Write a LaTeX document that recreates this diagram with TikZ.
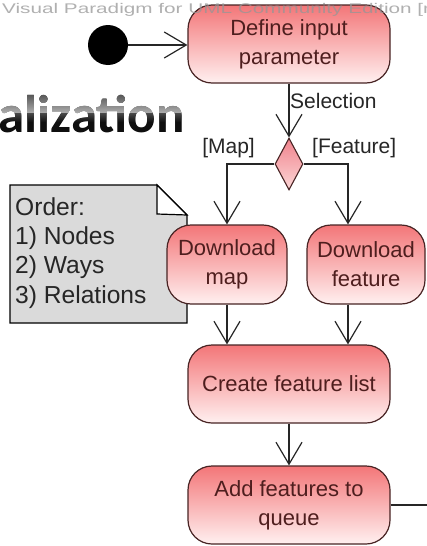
\documentclass[tikz,border=0pt]{standalone}
\usepackage{fontspec}
\setmainfont{Liberation Sans}
\newfontfamily\headfont{Carlito}
\usetikzlibrary{arrows.meta,shapes.geometric,calc}

\definecolor{acttop}{RGB}{243,118,120}
\definecolor{actbot}{RGB}{255,240,240}
\definecolor{actline}{RGB}{72,36,36}
\definecolor{acttext}{RGB}{78,30,30}
\definecolor{dectop}{RGB}{240,130,140}
\definecolor{decbot}{RGB}{252,215,215}
\definecolor{notefill}{RGB}{218,218,218}
\definecolor{wmark}{RGB}{150,150,150}
\definecolor{glossa}{RGB}{75,75,75}
\definecolor{glossb}{RGB}{170,170,170}
\definecolor{glossc}{RGB}{80,80,80}
\definecolor{glossd}{RGB}{15,15,15}

\begin{document}
\begin{tikzpicture}[x=1pt,y=-1pt,
  action/.style={draw=actline, line width=1.2pt, rounded corners=24pt,
    top color=acttop, bottom color=actbot, minimum height=78pt,
    text=acttext, align=center, inner sep=0pt,
    font=\fontsize{22}{29}\selectfont},
  decision/.style={diamond, draw=actline, line width=1.1pt, inner sep=0pt,
    aspect=0.54, minimum width=28pt, minimum height=52pt,
    top color=dectop, bottom color=decbot},
  flow/.style={draw=black!85, line width=1.2pt,
    -{Straight Barb[length=22pt,width=26pt,line width=1.2pt]}},
  plain/.style={draw=black!85, line width=1.2pt},
  guard/.style={inner sep=0pt, text=black!85, font=\fontsize{21}{25}\selectfont},
  notetext/.style={inner sep=0pt, anchor=base west, text=black!85,
    font=\fontsize{24.6}{28}\selectfont},
]
\useasboundingbox (0,0) rectangle (427,546);
\clip (0,0) rectangle (427,546);
\fill[white] (0,0) rectangle (427,546);

% heading fragment: black letters, lightened by a glossy grey shading on top
\node[inner sep=0pt, anchor=base east, text=black,
      font=\headfont\bfseries\fontsize{53}{53}\selectfont] (head) at (185,132) {alization};
\begin{scope}[blend mode=lighten]
  \shade[top color=glossa, bottom color=glossb] (0,92) rectangle (190,112);
  \shade[top color=glossc, bottom color=glossd] (0,112) rectangle (190,122);
  \fill[glossd] (0,122) rectangle (190,140);
\end{scope}

% note
\draw[line width=1.2pt, fill=notefill] (10,185) -- (157,185) -- (187,215) -- (187,323) -- (10,323) -- cycle;
\draw[line width=1.2pt, fill=white] (157,185) -- (157,214) -- (187,215) -- cycle;
\node[notetext] (n1) at (15,215) {Order:};
\node[notetext] (n2) at (15,244) {1) Nodes};
\node[notetext] (n3) at (15,273) {2) Ways};
\node[notetext] (n4) at (15,303) {3) Relations};

% activities
\node[circle, fill=black, minimum size=40pt, inner sep=0pt] (start) at (108,45) {};
\node[action, minimum width=202pt] (def) at (289,44) {Define input\\parameter};
\node[decision] (dec) at (289,164) {};
\node[action, minimum width=120pt, minimum height=79pt] (map) at (227,264.5) {Download\\map};
\node[action, minimum width=118pt, minimum height=79pt] (feat) at (366,264.5) {Download\\feature};
\node[action, minimum width=202pt] (create) at (289,384) {Create feature list};
\node[action, minimum width=202pt] (add) at (289,505) {Add features to\\queue};
\coordinate (featin) at ([xshift=-18pt]feat.north);
\coordinate (featout) at ([xshift=-18pt]feat.south);
\coordinate (exit) at (432,505);

% connectors
\draw[flow] (start) -- (start -| def.west);
\draw[flow] (def.south) -- (dec.north);
\draw[flow] (dec.west) -| (map.north);
\draw[flow] (dec.east) -| (featin);
\draw[flow] (map.south) -- (map.south |- create.north);
\draw[flow] (featout) -- (featout |- create.north);
\draw[flow] (create.south) -- (add.north);
\draw[plain] (add.east) -- (exit);

% labels
\node[guard, anchor=base west] (sel) at (290,108) {Selection};
\node[guard, anchor=base east] (gmap) at (255,153) {[Map]};
\node[guard, anchor=base west] (gfeat) at (312,153) {[Feature]};

% tool watermark
\node[anchor=base west, inner sep=0pt, text=wmark, opacity=0.75] (wm) at (2,13)
  {\scalebox{1.48}[1]{\fontsize{14}{16}\selectfont Visual Paradigm for UML Community Edition [no}};
\end{tikzpicture}
\end{document}
